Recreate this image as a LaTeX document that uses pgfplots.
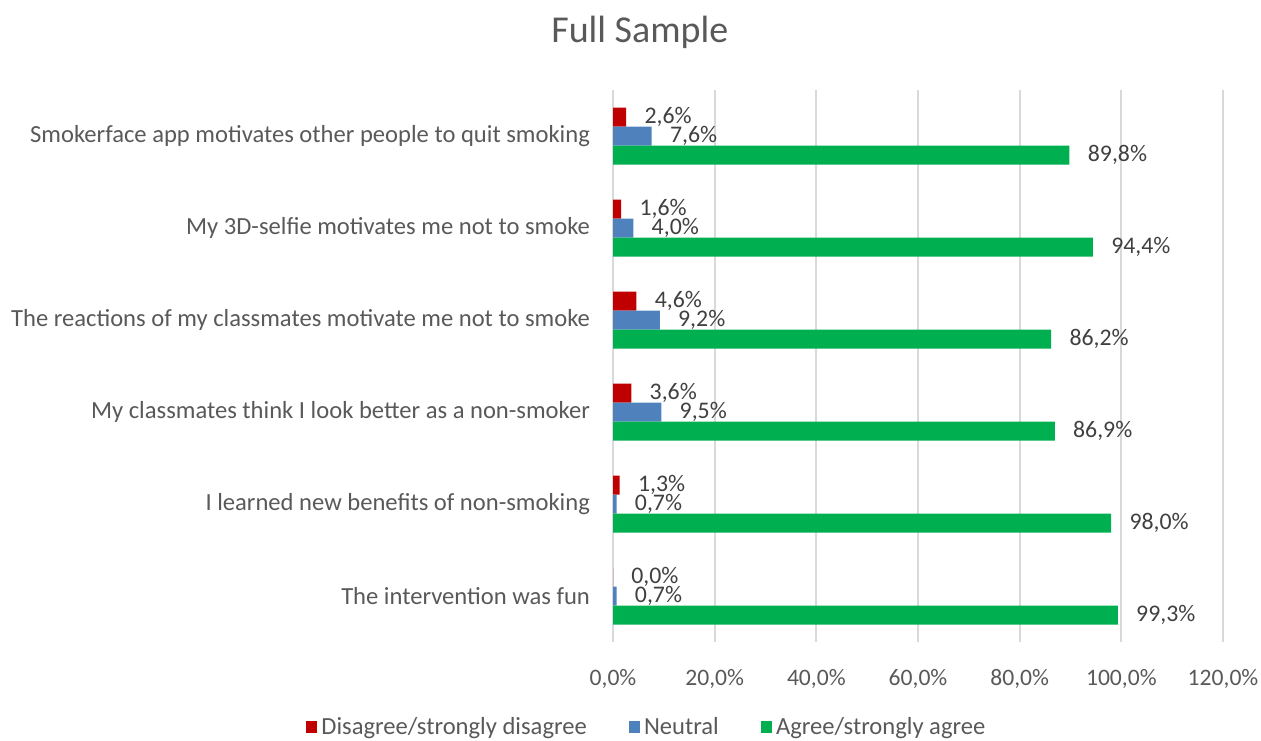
\documentclass[border=0pt]{standalone}
\usepackage{fontspec}
\setmainfont{Carlito}
\usepackage{pgfplots}
\pgfplotsset{compat=1.18}
\definecolor{disagree}{HTML}{C00000}
\definecolor{neutral}{HTML}{4F81BD}
\definecolor{agree}{HTML}{00B050}
\definecolor{txt}{HTML}{595959}
\definecolor{lbl}{HTML}{404040}
\definecolor{gridc}{HTML}{D9D9D9}

\begin{document}
\begin{tikzpicture}
\path[use as bounding box] (0,0) rectangle (630.5pt,370pt);
\begin{axis}[
    at={(306.5pt,49pt)}, anchor=south west,
    scale only axis, width=305pt, height=276pt,
    xbar=0pt, bar width=9.5pt,
    xmin=0, xmax=120, ymin=-0.5, ymax=5.5, y dir=reverse,
    xtick={0,20,...,120},
    ytick={0,...,5},
    yticklabels={
        Smokerface app motivates other people to quit smoking,
        My 3D-selfie motivates me not to smoke,
        The reactions of my classmates motivate me not to smoke,
        My classmates think I look better as a non-smoker,
        I learned new benefits of non-smoking,
        The intervention was fun},
    xticklabel={\pgfmathprintnumber[fixed,fixed zerofill,precision=1,use comma,assume math mode=true]{\tick}\%},
    xticklabel style={yshift=-10pt, font=\fontsize{11.8}{13}\selectfont},
    yticklabel style={xshift=-8pt, font=\fontsize{12.3}{14}\selectfont},
    tick label style={text=txt},
    axis line style={draw=none},
    major tick length=0pt,
    xmajorgrids, grid style={gridc, line width=1pt},
    title={Full Sample},
    title style={at={(0.044,1.082)}, anchor=center, font=\fontsize{19}{22}\selectfont, text=txt},
    nodes near coords={\pgfmathprintnumber[fixed,fixed zerofill,precision=1,use comma,assume math mode=true]{\pgfplotspointmeta}\%},
    every node near coord/.append style={anchor=west, inner sep=0.5pt, xshift=8.5pt, font=\fontsize{11.9}{13}\selectfont, text=lbl},
    legend columns=3,
    legend style={at={(0.057,-0.154)}, anchor=center, draw=none, fill=none,
        font=\fontsize{12.3}{14}\selectfont, text=txt,
        /tikz/every even column/.append style={column sep=19pt}},
    legend image code/.code={\path[#1, draw=none] (0pt,-2.8pt) rectangle (5.6pt,2.8pt);},
]
\addplot[fill=disagree, draw=none, bar shift=9.5pt] coordinates {
    (2.6,0) (1.6,1) (4.6,2) (3.6,3) (1.3,4) (0.0,5)};
\addlegendentry{Disagree/strongly disagree}
\addplot[fill=neutral, draw=none, bar shift=0pt] coordinates {
    (7.6,0) (4.0,1) (9.2,2) (9.5,3) (0.7,4) (0.7,5)};
\addlegendentry{Neutral}
\addplot[fill=agree, draw=none, bar shift=-9.5pt] coordinates {
    (89.8,0) (94.4,1) (86.2,2) (86.9,3) (98.0,4) (99.3,5)};
\addlegendentry{Agree/strongly agree}
\end{axis}
\end{tikzpicture}
\end{document}
